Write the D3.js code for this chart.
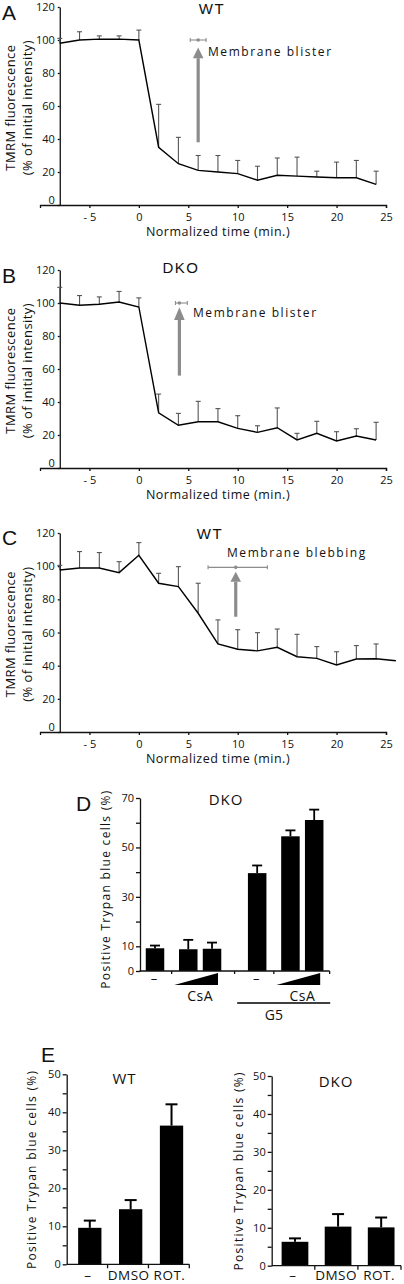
<!DOCTYPE html>
<html><head><meta charset="utf-8">
<script src="https://cdn.jsdelivr.net/npm/d3@7"></script>
<style>
body{margin:0;background:#fff}
svg{display:block}
text{font-family:"Open Sans",sans-serif;fill:#111}
.lt{font-family:"Liberation Sans",Arial,sans-serif}
</style>
</head><body>
<svg id="c" width="404" height="1284"></svg>
<script>
// ---------- DATA ----------
const timeA = [-8,-6,-4,-2,0,2,4,6,8,10,12,14,16,18,20,22,24];
const valA  = [98,100,100.5,100.5,100,35,25,21,20,19,15,18,17.5,17,16.5,16.5,12.5];
const errA  = [101,105,102.5,102.5,106,61,41,30,30,27,23.5,28.5,29,20.5,26,27,20.5];

const timeB = [-8,-6,-4,-2,0,2,4,6,8,10,12,14,16,18,20,22,24];
const valB  = [100,98.6,99.2,100.6,97.6,33.5,25.9,28,28,24,21.6,24.4,17,21,16.4,19.4,17];
const errB  = [109.5,104.5,103.7,107,103.1,44.8,33.1,40.4,36,31.7,25.6,36.4,21,28.3,22,23.8,27.7];

const timeC = [-8,-6,-4,-2,0,2,4,6,8,10,12,14,16,18,20,22,24,26];
const valC  = [97.7,98.9,98.9,96.1,106.6,89.7,87.7,71.6,53.1,49.9,48.9,51.1,45.4,44.4,40.4,44,44.2,43];
const errC  = [100.5,108.8,108.2,102.7,114.2,95.7,99.7,89.7,67.6,61.7,59.9,62.1,58.9,51.5,48.4,52.1,53.1,null];

const timeTicks = [-5,0,5,10,15,20,25];
const fluorTicks = [0,20,40,60,80,100,120];

// annotation events (time, value, time range)
const eventA = {t:6,   v:100,  lo:5.2, hi:6.8,  label:"Membrane blister"};
const eventB = {t:4.1, v:100,  lo:3.7, hi:4.9,  label:"Membrane blister"};
const eventC = {t:9.8, v:99.3, lo:7,   hi:13,   label:"Membrane blebbing"};

// Panel D
const catsD   = ["–","CsA low","CsA high","G5 –","G5 CsA low","G5 CsA high"];
const groupD  = [0,0,0,1,1,1];
const rampD   = [false,true,true,false,true,true];
const valD    = [9.2,8.8,9.0,39.6,54.5,61.1];
const errD    = [10.3,12.6,11.5,42.7,56.9,65.3];
const ticksD  = [0,10,20,30,40,50,60,70];
const labelsD = [0,10,30,50,70];

// Panel E
const catsE   = ["–","DMSO","ROT."];
const valEWT  = [9.6,14.5,36.5];
const errEWT  = [11.5,16.9,42.1];
const valEDKO = [6.3,10.3,10.1];
const errEDKO = [7.2,13.6,12.7];
const ticksE  = [0,5,10,15,20,25,30,35,40,45,50];
const labelsE = [0,10,20,30,40,50];

// ---------- DRAW ----------
const svg = d3.select("#c");
const AX = "#111";

function styleAxis(g, fs){
  g.selectAll("path,line").attr("stroke",AX).attr("stroke-width",1.3);
  g.selectAll("text").attr("font-size",fs||11).attr("fill","#111").style("font-family",'"Open Sans",sans-serif');
}

function lineChart(o){
  const x = d3.scaleLinear().domain([-10,25]).range([40,386]);
  const y = d3.scaleLinear().domain([0,120]).range([o.y0,o.y1]);
  const g = svg.append("g");
  // x axis
  const xa = g.append("g").attr("transform",`translate(0,${o.y0})`)
    .call(d3.axisBottom(x).tickValues(timeTicks).tickSize(3).tickSizeOuter(3)
      .tickFormat(d=> d<0 ? "- "+(-d) : d));
  styleAxis(xa,11);
  xa.selectAll("text").attr("dy","0.9em");
  // y axis
  const ya = g.append("g").attr("transform",`translate(${x(-8)},0)`)
    .call(d3.axisLeft(y).tickValues(fluorTicks).tickSize(2).tickSizeOuter(0).tickPadding(3));
  styleAxis(ya,11);
  ya.selectAll(".tick").filter(d=>d===0).select("text").attr("dy","-0.1em");
  // error bars
  const eb = g.append("g").attr("stroke","#555").attr("stroke-width",1.1);
  o.time.forEach((t,i)=>{
    if(o.err[i]==null) return;
    eb.append("line").attr("x1",x(t)).attr("x2",x(t)).attr("y1",y(o.val[i])).attr("y2",y(o.err[i]));
    eb.append("line").attr("x1",x(t)-2.5).attr("x2",x(t)+2.5).attr("y1",y(o.err[i])).attr("y2",y(o.err[i]));
  });
  // line
  g.append("path").datum(o.time.map((t,i)=>[t,o.val[i]]))
    .attr("d",d3.line().x(d=>x(d[0])).y(d=>y(d[1])))
    .attr("fill","none").attr("stroke","#000").attr("stroke-width",1.4);
  // event marker
  const e = o.event, gc="#8c8c8c";
  const eg = g.append("g").attr("stroke",gc).attr("stroke-width",1.1);
  eg.append("line").attr("x1",x(e.lo)).attr("x2",x(e.hi)).attr("y1",y(e.v)).attr("y2",y(e.v));
  [e.lo,e.hi].forEach(t=>eg.append("line").attr("x1",x(t)).attr("x2",x(t)).attr("y1",y(e.v)-2).attr("y2",y(e.v)+2));
  g.append("circle").attr("cx",x(e.t)).attr("cy",y(e.v)).attr("r",1.8).attr("fill",gc);
  // arrow
  g.append("line").attr("x1",x(e.t)).attr("x2",x(e.t)).attr("y1",y(o.arrow[0])).attr("y2",y(o.arrow[1]))
    .attr("stroke",gc).attr("stroke-width",3.2);
  g.append("path").attr("fill",gc)
    .attr("d",`M${x(e.t)-5.3},${y(o.arrow[1])}L${x(e.t)+5.3},${y(o.arrow[1])}L${x(e.t)},${y(o.arrow[2])}Z`);
  g.append("text").attr("x",o.lx).attr("y",o.ly).attr("font-size",12).style("letter-spacing","1.55px").text(e.label);
  // titles
  g.append("text").attr("class","lt").attr("x",o.tx).attr("y",o.ty).attr("text-anchor","middle").attr("font-size",15).style("letter-spacing","1.5px").text(o.title);
  g.append("text").attr("class","lt").attr("x",2).attr("y",o.ly0).attr("font-size",21).text(o.letter);
  // axis labels
  g.append("text").attr("x",218).attr("y",o.y0+31).attr("text-anchor","middle").attr("font-size",12.5).style("letter-spacing","0.5px").text("Normalized time (min.)");
  const cy = y(59);
  g.append("text").attr("transform",`translate(15,${cy}) rotate(-90)`).attr("text-anchor","middle").attr("font-size",13).style("letter-spacing","0.4px").text("TMRM fluorescence");
  g.append("text").attr("transform",`translate(32,${cy}) rotate(-90)`).attr("text-anchor","middle").attr("font-size",13).style("letter-spacing","0.4px").text("(% of initial intensity)");
}

lineChart({time:timeA,val:valA,err:errA,y0:205,y1:7,event:eventA,arrow:[38,89,95.5],
  lx:208,ly:56,title:"WT",tx:212,ty:14,letter:"A",ly0:19.5});
lineChart({time:timeB,val:valB,err:errB,y0:468,y1:270,event:eventB,arrow:[56,89.7,97.4],
  lx:193,ly:317,title:"DKO",tx:181,ty:273,letter:"B",ly0:283});
lineChart({time:timeC,val:valC,err:errC,y0:732,y1:533,event:eventC,arrow:[69.5,90.6,96.7],
  lx:227,ly:557,title:"WT",tx:210,ty:539,letter:"C",ly0:545});

// ---------- Panel D ----------
(function(){
  // slot positions: controls then ramps, groups separated by a gap
  const slot = catsD.map((c,i)=> i + (rampD[i]?0.4:0) + groupD[i]*1.3);
  const x = d3.scaleLinear().domain([0,slot[slot.length-1]]).range([155,314.2]);
  const y = d3.scaleLinear().domain([0,70]).range([971,798]);
  const g = svg.append("g");
  const bw = 18.5;
  g.selectAll("rect").data(valD).join("rect")
    .attr("x",(d,i)=>x(slot[i])-bw/2).attr("width",bw)
    .attr("y",d=>y(d)).attr("height",d=>y(0)-y(d)).attr("fill","#000");
  const eb = g.append("g").attr("stroke","#000").attr("stroke-width",1.8);
  valD.forEach((v,i)=>{
    const cx=x(slot[i]);
    eb.append("line").attr("x1",cx).attr("x2",cx).attr("y1",y(v)).attr("y2",y(errD[i]));
    eb.append("line").attr("x1",cx-5).attr("x2",cx+5).attr("y1",y(errD[i])).attr("y2",y(errD[i]));
  });
  const ya = g.append("g").attr("transform","translate(140,0)")
    .call(d3.axisLeft(y).tickValues(ticksD).tickSize(4).tickSizeOuter(0).tickPadding(2)
      .tickFormat(d=>labelsD.includes(d)?d:""));
  styleAxis(ya,11);
  // x axis with separators
  const xs = x(-0.65), xe = x(7.35);
  const seps = [ (slot[0]+slot[1])/2, (slot[2]+slot[3])/2, (slot[3]+slot[4])/2 ];
  g.append("line").attr("x1",xs).attr("x2",xe).attr("y1",y(0)).attr("y2",y(0)).attr("stroke",AX).attr("stroke-width",1.3);
  seps.concat([7.35]).forEach(s=>g.append("line").attr("x1",x(s)).attr("x2",x(s)).attr("y1",y(0)).attr("y2",y(0)+3).attr("stroke",AX).attr("stroke-width",1.3));
  // labels
  [0,3].forEach(i=>g.append("text").attr("x",x(slot[i])-1).attr("y",983).attr("text-anchor","middle").attr("font-size",13).text("–"));
  [[1,2],[4,5]].forEach(([a,b])=>{
    const x0=x(slot[a])-14, x1=x(slot[b])+6;
    g.append("path").attr("d",`M${x0},985L${x1},985L${x1},973Z`).attr("fill","#000");
    g.append("text").attr("x",(x(slot[a])+x(slot[b]))/2).attr("y",1001).attr("text-anchor","middle").attr("font-size",14).style("letter-spacing","0.5px").text("CsA");
  });
  g.append("line").attr("x1",x(slot[3])-20).attr("x2",x(slot[5])+16).attr("y1",1003).attr("y2",1003).attr("stroke","#000").attr("stroke-width",1.3);
  g.append("text").attr("x",(x(slot[3])+x(slot[4]))/2).attr("y",1020).attr("text-anchor","middle").attr("font-size",14).text("G5");
  g.append("text").attr("x",226).attr("y",805).attr("text-anchor","middle").attr("font-size",15).style("letter-spacing","1px").text("DKO");
  g.append("text").attr("class","lt").attr("x",76).attr("y",811).attr("font-size",21).text("D");
  g.append("text").attr("transform","translate(110,889) rotate(-90)").attr("text-anchor","middle").attr("font-size",12).style("letter-spacing","1.3px").text("Positive Trypan blue cells (%)");
})();

// ---------- Panel E ----------
function barE(o){
  const x = d3.scaleBand().domain(catsE).range([o.x0,o.x1]);
  const y = d3.scaleLinear().domain([0,50]).range([o.y0,o.y1]);
  const g = svg.append("g");
  const st = x.step();
  g.selectAll("rect").data(o.val).join("rect")
    .attr("x",(d,i)=>x(catsE[i])+st*o.off).attr("width",st*o.w)
    .attr("y",d=>y(d)).attr("height",d=>y(0)-y(d)).attr("fill","#000");
  const eb = g.append("g").attr("stroke","#000").attr("stroke-width",2);
  o.val.forEach((v,i)=>{
    const cx=x(catsE[i])+st*(o.off+o.w/2);
    eb.append("line").attr("x1",cx).attr("x2",cx).attr("y1",y(v)).attr("y2",y(o.err[i]));
    eb.append("line").attr("x1",cx-6).attr("x2",cx+6).attr("y1",y(o.err[i])).attr("y2",y(o.err[i]));
  });
  const ya = g.append("g").attr("transform",`translate(${o.x0},0)`)
    .call(d3.axisLeft(y).tickValues(ticksE).tickSize(4).tickSizeOuter(0).tickPadding(2)
      .tickFormat(d=>labelsE.includes(d)?d:""));
  styleAxis(ya,11);
  g.append("line").attr("x1",o.x0).attr("x2",o.x1).attr("y1",y(0)).attr("y2",y(0)).attr("stroke",AX).attr("stroke-width",1.3);
  catsE.forEach((c,i)=>{
    const xe = x(c)+st;
    g.append("line").attr("x1",xe).attr("x2",xe).attr("y1",y(0)).attr("y2",y(0)+4).attr("stroke",AX).attr("stroke-width",1.3);
    g.append("text").attr("x",x(c)+st*(o.off+o.w/2)-2).attr("y",1279.5).attr("text-anchor","middle").attr("font-size",13.5).style("letter-spacing","0.5px").text(c);
  });
  g.append("text").attr("x",o.tx).attr("y",o.ty).attr("text-anchor","middle").attr("font-size",15).style("letter-spacing","1px").text(o.title);
  g.append("text").attr("transform",`translate(${o.lx},${(o.y0+o.y1)/2}) rotate(-90)`).attr("text-anchor","middle").attr("font-size",12).style("letter-spacing","1.3px").text("Positive Trypan blue cells (%)");
}
barE({val:valEWT,err:errEWT,x0:66.7,x1:189.3,y0:1264.3,y1:1074.3,off:0.28,w:0.57,title:"WT",tx:124.5,ty:1084,lx:36});
barE({val:valEDKO,err:errEDKO,x0:271.7,x1:401,y0:1265.7,y1:1076,off:0.23,w:0.62,title:"DKO",tx:336,ty:1087,lx:243});
svg.append("text").attr("class","lt").attr("x",41).attr("y",1062).attr("font-size",21).text("E");
</script>
</body></html>
